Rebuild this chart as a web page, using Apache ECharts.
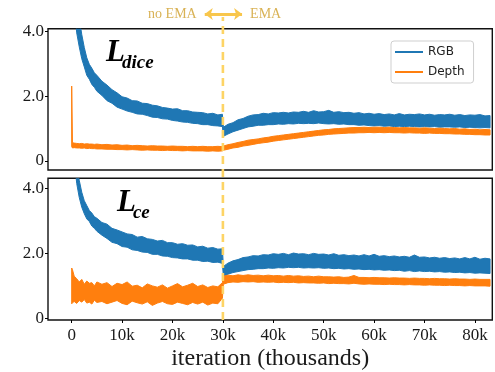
<!DOCTYPE html>
<html>
<head>
<meta charset="utf-8">
<script src="https://cdn.jsdelivr.net/npm/echarts@6/dist/echarts.min.js"></script>
<style>
html,body{margin:0;padding:0;background:#fff;}
#chart{width:495px;height:372px;}
</style>
</head>
<body>
<div id="chart"></div>
<script>
// ---------------- data ----------------
var iterations = [0,0.15,0.5,1,1.5,2,2.5,3,3.5,4,4.5,5,
  6,7,8,9,10,11,12,13,14,15,16,17,18,19,20,21,22,23,24,25,26,27,28,29,29.9,30.1,
  31,32,33,34,35,36,37,38,39,40,41,42,43,44,45,46,47,48,49,50,51,52,53,54,55,56,57,58,59,60,
  61,62,63,64,65,66,67,68,69,70,71,72,73,74,75,76,77,78,79,80,81,82,83];

var rgbDiceLo = [6.2,5.9,4.7,3.95,3.52,3.15,2.9,2.64,2.52,2.36,2.27,2.15,
  2.02,1.86,1.78,1.66,1.6,1.54,1.5,1.45,1.44,1.4,1.35,1.34,1.3,1.29,1.25,1.23,1.2,1.19,1.16,1.15,1.12,1.12,1.09,1.08,1.06,0.76,
  0.83,0.9,0.95,1.0,1.05,1.07,1.1,1.1,1.12,1.12,1.14,1.13,1.15,1.14,1.16,1.15,1.16,1.15,1.17,1.15,1.14,1.15,1.13,1.14,1.12,1.12,1.1,1.11,1.09,1.08,
  1.09,1.07,1.08,1.06,1.07,1.06,1.07,1.06,1.05,1.06,1.05,1.06,1.04,1.05,1.05,1.04,1.05,1.03,1.04,1.03,1.02,1.03,1.02];
var rgbDiceHi = [7.2,6.9,5.8,5.0,4.4,3.9,3.5,3.18,2.98,2.86,2.72,2.64,
  2.46,2.34,2.2,2.1,1.98,1.94,1.86,1.85,1.78,1.77,1.72,1.7,1.65,1.63,1.6,1.61,1.55,1.55,1.51,1.5,1.49,1.45,1.47,1.42,1.44,1.04,
  1.13,1.18,1.27,1.31,1.38,1.42,1.43,1.47,1.45,1.49,1.48,1.5,1.48,1.51,1.5,1.53,1.5,1.55,1.51,1.52,1.56,1.5,1.52,1.49,1.5,1.47,1.49,1.45,1.47,1.44,
  1.46,1.43,1.45,1.42,1.46,1.42,1.44,1.43,1.45,1.42,1.44,1.41,1.43,1.42,1.44,1.41,1.43,1.40,1.42,1.41,1.43,1.39,1.4];

var depthDiceLo = [0.44,0.4,0.41,0.4,0.4,0.39,0.4,0.38,0.39,0.38,0.38,0.37,
  0.37,0.36,0.36,0.35,0.35,0.34,0.35,0.34,0.33,0.34,0.33,0.33,0.32,0.33,0.32,0.32,0.31,0.32,0.31,0.31,0.31,0.3,0.31,0.3,0.31,0.33,
  0.36,0.4,0.42,0.46,0.48,0.51,0.54,0.56,0.58,0.61,0.63,0.65,0.67,0.69,0.71,0.73,0.75,0.77,0.79,0.8,0.82,0.83,0.84,0.85,0.86,0.86,0.87,0.87,0.88,0.87,
  0.88,0.87,0.88,0.87,0.87,0.86,0.87,0.86,0.86,0.85,0.86,0.85,0.85,0.84,0.84,0.83,0.83,0.82,0.82,0.81,0.81,0.8,0.8];
var depthDiceHi = [2.31,0.56,0.55,0.54,0.53,0.54,0.52,0.53,0.52,0.52,0.51,0.52,
  0.5,0.51,0.49,0.5,0.48,0.49,0.47,0.48,0.47,0.46,0.47,0.46,0.46,0.45,0.46,0.45,0.45,0.44,0.45,0.44,0.45,0.44,0.44,0.45,0.44,0.46,
  0.5,0.53,0.57,0.6,0.64,0.66,0.68,0.71,0.73,0.76,0.78,0.8,0.82,0.84,0.86,0.88,0.9,0.92,0.94,0.96,0.97,0.99,1.0,1.01,1.02,1.03,1.03,1.04,1.03,1.04,
  1.04,1.03,1.04,1.03,1.02,1.03,1.02,1.02,1.01,1.02,1.01,1.0,1.01,1.0,0.99,1.0,0.98,0.99,0.97,0.98,0.96,0.97,0.96];

var rgbCeLo = [6.5,6.0,4.9,4.15,3.72,3.42,3.22,3.06,2.98,2.84,2.77,2.68,
  2.56,2.46,2.34,2.3,2.21,2.19,2.11,2.09,2.04,2.03,1.97,1.97,1.92,1.91,1.87,1.86,1.83,1.83,1.79,1.79,1.75,1.76,1.72,1.73,1.69,1.28,
  1.36,1.41,1.44,1.47,1.5,1.51,1.53,1.53,1.55,1.54,1.56,1.55,1.57,1.56,1.57,1.55,1.56,1.55,1.56,1.54,1.55,1.53,1.54,1.52,1.53,1.51,1.52,1.5,1.51,1.49,
  1.5,1.48,1.49,1.47,1.48,1.45,1.47,1.44,1.46,1.44,1.45,1.43,1.44,1.42,1.43,1.41,1.42,1.4,1.41,1.39,1.4,1.39,1.38];
var rgbCeHi = [7.5,7.2,6.0,4.7,4.25,3.88,3.62,3.47,3.32,3.24,3.13,3.08,
  2.95,2.9,2.77,2.72,2.66,2.6,2.58,2.5,2.52,2.45,2.43,2.38,2.4,2.33,2.33,2.28,2.3,2.25,2.26,2.2,2.22,2.16,2.18,2.13,2.14,1.6,
  1.7,1.77,1.81,1.87,1.89,1.93,1.92,1.96,1.95,1.99,1.97,2.0,1.96,2.01,1.98,1.99,1.96,2.0,1.97,1.98,1.95,1.99,1.94,1.96,1.93,1.95,1.92,1.96,1.92,1.97,
  1.91,1.93,1.9,1.92,1.89,1.91,1.88,1.95,1.88,1.89,1.86,1.88,1.85,1.87,1.84,1.86,1.83,1.87,1.83,1.88,1.82,1.85,1.83];

var depthCeLo = [0.45,0.48,0.52,0.46,0.55,0.5,0.58,0.47,0.5,0.44,0.56,0.49,
  0.52,0.45,0.5,0.55,0.46,0.42,0.53,0.48,0.44,0.51,0.4,0.47,0.52,0.45,0.43,0.5,0.46,0.42,0.49,0.44,0.5,0.41,0.47,0.45,0.62,1.05,
  1.1,1.12,1.11,1.13,1.12,1.13,1.11,1.12,1.11,1.12,1.1,1.11,1.1,1.11,1.09,1.1,1.09,1.09,1.08,1.09,1.07,1.08,1.07,1.07,1.06,1.08,1.06,1.05,1.06,1.05,
  1.05,1.04,1.05,1.04,1.04,1.03,1.04,1.03,1.03,1.02,1.03,1.02,1.02,1.01,1.02,1.01,1.01,1.0,1.01,1.0,1.0,1.0,0.99];
var depthCeHi = [1.55,1.5,1.3,1.22,1.12,1.2,1.05,1.15,1.08,1.1,1.0,1.12,
  1.05,1.1,0.98,1.08,1.04,1.12,0.99,1.02,0.94,1.06,1.0,0.96,1.03,0.93,1.0,1.07,0.97,1.02,1.08,0.98,1.03,0.95,1.0,0.97,1.1,1.3,
  1.33,1.31,1.34,1.32,1.34,1.32,1.33,1.31,1.33,1.31,1.32,1.3,1.32,1.3,1.31,1.29,1.3,1.28,1.3,1.28,1.28,1.27,1.28,1.26,1.27,1.32,1.26,1.26,1.25,1.26,
  1.25,1.25,1.24,1.25,1.24,1.24,1.23,1.24,1.23,1.23,1.22,1.23,1.22,1.22,1.21,1.22,1.21,1.21,1.2,1.21,1.2,1.2,1.2];

var legendNames = ['RGB', 'Depth'];
var xTicks = [0,10,20,30,40,50,60,70,80];
var xTickLabels = ['0','10k','20k','30k','40k','50k','60k','70k','80k'];
var yTicks = [0,2,4];
var yTickLabels = ['0','2.0','4.0'];
var xAxisTitle = 'iteration (thousands)';
var emaSwitch = 30;
var arrowSpan = [26.4, 33.8];
var annotLeft = 'no EMA';
var annotRight = 'EMA';
var titleTop = ['L', 'dice'];
var titleBottom = ['L', 'ce'];

// ---------------- chart ----------------
var BLUE = '#1f77b4', ORANGE = '#ff7f0e';
var SERIF = '"Liberation Serif", "Times New Roman", serif';
var chart = echarts.init(document.getElementById('chart'), null, {renderer: 'canvas'});

function bandSeries(name, g, lo, hi, color, z) {
  return {
    type: 'custom', name: name, xAxisIndex: g, yAxisIndex: g, z: z, silent: true,
    data: iterations.map(function (x, i) { return [x, lo[i], hi[i]]; }),
    encode: {x: 0, y: [1, 2]},
    renderItem: function (params, api) {
      if (params.dataIndex !== 0) return null;
      var n = iterations.length, top = [], bot = [];
      for (var i = 0; i < n; i++) {
        top.push(api.coord([iterations[i], hi[i]]));
        bot.push(api.coord([iterations[i], lo[i]]));
      }
      var pts = top.concat(bot.reverse());
      var cs = params.coordSys;
      return {
        type: 'polygon',
        shape: {points: pts},
        style: {fill: color, stroke: color, lineWidth: 1},
        clipPath: {type: 'rect', shape: {x: cs.x, y: cs.y, width: cs.width, height: cs.height}}
      };
    }
  };
}

function yAxisDef(g, min, max) {
  return {
    type: 'value', gridIndex: g, min: min, max: max,
    splitLine: {show: false},
    axisLine: {show: false, onZero: false},
    axisTick: {show: true, length: 3, inside: false, customValues: yTicks, lineStyle: {color: '#000', width: 1}},
    axisLabel: {show: true, customValues: yTicks, margin: 4, fontFamily: SERIF, fontSize: 17, color: '#1a1a1a',
      formatter: function (v) { var k = yTicks.indexOf(v); return k >= 0 ? yTickLabels[k] : ''; }}
  };
}

function xAxisDef(g, showLabels) {
  return {
    type: 'value', gridIndex: g, min: -4.7, max: 83.45,
    splitLine: {show: false},
    axisLine: {show: false, onZero: false},
    axisTick: {show: showLabels, length: 3, inside: false, customValues: xTicks, lineStyle: {color: '#000', width: 1}},
    axisLabel: {show: showLabels, customValues: xTicks, margin: 7, fontFamily: SERIF, fontSize: 17, color: '#1a1a1a',
      formatter: function (v) { var k = xTicks.indexOf(v); return k >= 0 ? xTickLabels[k] : ''; }},
    name: showLabels ? xAxisTitle : '',
    nameLocation: 'middle', nameGap: 27,
    nameTextStyle: {fontFamily: SERIF, fontSize: 24, color: '#1a1a1a'}
  };
}

var richTitle = {
  a: {fontFamily: SERIF, fontStyle: 'italic', fontWeight: 'bold', fontSize: 31, color: '#000', lineHeight: 30},
  b: {fontFamily: SERIF, fontStyle: 'italic', fontWeight: 'bold', fontSize: 19, color: '#000', lineHeight: 30, verticalAlign: 'bottom', padding: [0, 0, -5, -3]}
};

var option = {
  animation: false,
  backgroundColor: '#fff',
  grid: [
    {left: 48, right: 2.7, top: 28.7, height: 141.3, show: true, borderColor: '#111', borderWidth: 1.4, backgroundColor: 'transparent'},
    {left: 48, right: 2.7, top: 178.3, height: 141.7, show: true, borderColor: '#111', borderWidth: 1.4, backgroundColor: 'transparent'},
    {left: 48, right: 2.7, top: 14, height: 306, show: false}
  ],
  xAxis: [xAxisDef(0, false), xAxisDef(1, true),
    {type: 'value', gridIndex: 2, min: -4.7, max: 83.45, show: false}],
  yAxis: [yAxisDef(0, -0.28, 4.08), yAxisDef(1, -0.05, 4.31),
    {type: 'value', gridIndex: 2, min: 0, max: 1, show: false}],
  title: [
    {left: 101, top: 33, text: '{a|' + titleTop[0] + '}{b|' + titleTop[1] + '}', textStyle: {rich: richTitle}},
    {left: 112, top: 183, text: '{a|' + titleBottom[0] + '}{b|' + titleBottom[1] + '}', textStyle: {rich: richTitle}}
  ],
  legend: {
    show: true, orient: 'vertical', left: 391, top: 41,
    data: legendNames.map(function (n) { return {name: n, icon: 'rect'}; }),
    itemWidth: 28, itemHeight: 2, itemGap: 6,
    padding: [4, 9, 4, 4],
    borderColor: '#cfcfcf', borderWidth: 1, borderRadius: 3, backgroundColor: 'rgba(255,255,255,0.85)',
    textStyle: {fontFamily: '"DejaVu Sans", sans-serif', fontSize: 12, color: '#222', lineHeight: 14}
  },
  series: [
    {type: 'line', name: legendNames[0], xAxisIndex: 0, yAxisIndex: 0, data: [], symbol: 'none', color: BLUE, lineStyle: {width: 2, color: BLUE}},
    {type: 'line', name: legendNames[1], xAxisIndex: 0, yAxisIndex: 0, data: [], symbol: 'none', color: ORANGE, lineStyle: {width: 2, color: ORANGE}},
    bandSeries('rgbDice', 0, rgbDiceLo, rgbDiceHi, BLUE, 3),
    bandSeries('depthDice', 0, depthDiceLo, depthDiceHi, ORANGE, 4),
    bandSeries('rgbCe', 1, rgbCeLo, rgbCeHi, BLUE, 3),
    bandSeries('depthCe', 1, depthCeLo, depthCeHi, ORANGE, 4),
    {
      type: 'line', xAxisIndex: 2, yAxisIndex: 2, z: 10, silent: true,
      data: [[emaSwitch, 0], [emaSwitch, 0.99]], symbol: 'none',
      lineStyle: {color: '#fdd465', width: 2.6, type: [8, 5]},
      markLine: {
        silent: true, symbol: ['arrow', 'arrow'], symbolSize: [9, 8],
        label: {show: false},
        lineStyle: {color: '#f8c64c', width: 3, type: 'solid'},
        data: [[{coord: [arrowSpan[0], 1]}, {coord: [arrowSpan[1], 1]}]]
      }
    },
    {
      type: 'scatter', xAxisIndex: 2, yAxisIndex: 2, z: 10, silent: true, clip: false,
      symbolSize: 2, itemStyle: {color: 'rgba(0,0,0,0)'},
      data: [[arrowSpan[0] - 1.4, 1]],
      label: {show: true, position: 'left', distance: 0, formatter: annotLeft, fontFamily: SERIF, fontSize: 14, color: '#cf9f2a'}
    },
    {
      type: 'scatter', xAxisIndex: 2, yAxisIndex: 2, z: 10, silent: true, clip: false,
      symbolSize: 2, itemStyle: {color: 'rgba(0,0,0,0)'},
      data: [[arrowSpan[1] + 1.4, 1]],
      label: {show: true, position: 'right', distance: 0, formatter: annotRight, fontFamily: SERIF, fontSize: 14, color: '#cf9f2a'}
    }
  ]
};
chart.setOption(option);
</script>
</body>
</html>
